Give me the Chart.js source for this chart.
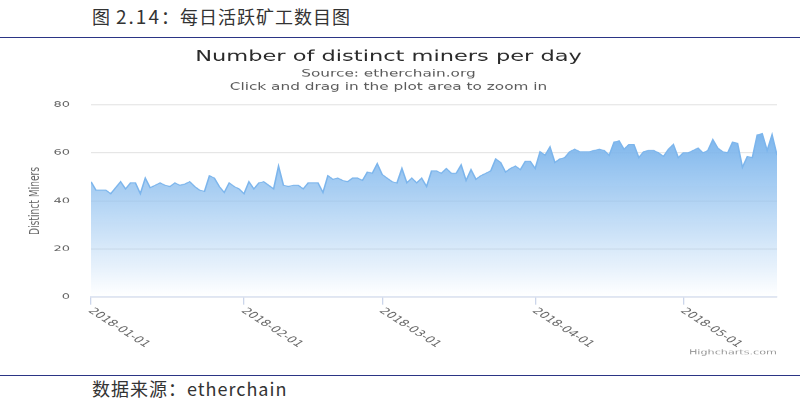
<!DOCTYPE html>
<html>
<head>
<meta charset="utf-8">
<style>
  body { margin:0; background:#fff; width:800px; height:404px; overflow:hidden; position:relative; font-family:"Noto Sans CJK SC", sans-serif; }
  .cap { position:absolute; left:92px; color:#333; font-size:18px; letter-spacing:1px; line-height:1; white-space:nowrap; }
  .cap .num { letter-spacing:2px; font-size:19px; }
  #head { top:6px; }
  #foot { top:379px; }
  .rule { position:absolute; left:0; width:800px; height:1px; background:#2b3585; }
  #wrap { position:absolute; left:0; top:40px; width:800px; height:334px; overflow:hidden; }
  #chart { transform-origin:0 0; transform:scaleY(0.63); }
</style>
</head>
<body>
<div class="cap" id="head">图 <span class="num">2.14</span>：每日活跃矿工数目图</div>
<div class="rule" style="top:37px"></div>
<div id="wrap"><canvas id="chart" width="800" height="530"></canvas></div>
<div class="rule" style="top:375px"></div>
<div class="cap" id="foot">数据来源：etherchain</div>

<script src="https://cdn.jsdelivr.net/npm/chart.js"></script>
<script>
// daily distinct miners, 2018-01-01 .. 2018-05-20
var jan = [48, 44.5, 44.5, 44.5, 43, 45.5, 48, 45, 47.5, 47.5, 43, 49.5, 45.5, 46.5, 47.5, 46.5,
           46, 47.5, 46.5, 47, 48, 46, 44.5, 44, 50.5, 49.5, 46, 43.5, 47.5, 46, 45];
var feb = [43, 48, 45, 47.5, 48, 46.5, 45, 54.5, 46.5, 46, 46.5, 46.5, 45, 47.5, 47.5, 47.5,
           43.5, 50.5, 49, 49.5, 48.5, 48, 49.5, 49.5, 48.5, 52, 51.5, 55.5];
var mar = [51, 49.5, 48, 47.5, 53.5, 47.5, 49.5, 47.5, 49.5, 46, 52.5, 52.5, 51.5, 53.5, 51.5, 51.5,
           55, 48.5, 53, 49, 50.5, 51.5, 52.5, 57.5, 56, 52, 53.5, 54.5, 53, 56.5, 56.5];
var apr = [53.5, 60.5, 59, 62.5, 56, 57.5, 58, 60.5, 61.5, 60.5, 60.5, 60.5, 61, 61.5, 61,
           59, 64.5, 65, 61.5, 63.5, 63.5, 58, 60.5, 61, 61, 60, 58.5, 61.5, 63.5, 58];
var may = [60, 60, 61, 62, 60, 61, 65.5, 62, 60.5, 60, 64.5, 64, 54, 58.5, 58, 67.5, 68, 61, 67.5, 59];

var tickDates = ['2018-01-01', '2018-02-01', '2018-03-01', '2018-04-01', '2018-05-01'];
var tickDays = [0, 31, 59, 90, 120];
var yTicks = [0, 20, 40, 60, 80];

var miners = jan.concat(feb, mar, apr, may);
var points = miners.map(function(v, i){ return {x: i, y: v}; });

// rotated date labels + credits
var xLabels = {
    id: 'xLabels',
    afterDraw: function(chart){
        var c = chart.ctx, xs = chart.scales.x, a = chart.chartArea;
        c.save();
        c.fillStyle = '#666';
        c.font = '14px "DejaVu Sans"';
        c.textAlign = 'left';
        c.textBaseline = 'middle';
        for (var i = 0; i < tickDays.length; i++) {
            c.save();
            c.translate(xs.getPixelForValue(tickDays[i]) - 1, a.bottom + 20);
            c.rotate(Math.PI / 4);
            c.fillText(tickDates[i], 0, 0);
            c.restore();
        }
        c.fillStyle = '#999';
        c.font = '11.2px "DejaVu Sans"';
        c.textAlign = 'right';
        c.fillText('Highcharts.com', a.right, 496);
        c.restore();
    }
};

var ctx = document.getElementById('chart');
new Chart(ctx, {
    type: 'line',
    data: {
        datasets: [{
            data: points,
            borderColor: '#7cb5ec',
            borderWidth: 1.6,
            pointRadius: 0,
            tension: 0,
            fill: 'origin',
            backgroundColor: function(c){
                var ch = c.chart, a = ch.chartArea;
                if (!a) return 'rgba(124,181,236,0.5)';
                var top = ch.scales.y.getPixelForValue(Math.max.apply(null, miners));
                var g = ch.ctx.createLinearGradient(0, top, 0, a.bottom);
                g.addColorStop(0, 'rgba(124,181,236,1)');
                g.addColorStop(1, 'rgba(124,181,236,0)');
                return g;
            }
        }]
    },
    options: {
        responsive: false,
        animation: false,
        events: [],
        layout: { padding: { left: 0, right: 23, top: 0, bottom: 0 } },
        plugins: {
            legend: { display: false },
            tooltip: { enabled: false },
            title: {
                display: true,
                text: 'Number of distinct miners per day',
                color: '#2a2a2a',
                font: { family: 'DejaVu Sans', size: 22.5, weight: 'normal', lineHeight: 1.2 },
                padding: { top: 13.6, bottom: 3.4 }
            },
            subtitle: {
                display: true,
                text: ['Source: etherchain.org', 'Click and drag in the plot area to zoom in'],
                color: '#5a5a5a',
                font: { family: 'DejaVu Sans', size: 15.3, lineHeight: 1.35 },
                padding: { top: 0, bottom: 17.5 }
            }
        },
        scales: {
            x: {
                type: 'linear',
                min: 0,
                max: miners.length - 1,
                afterBuildTicks: function(s){ s.ticks = tickDays.map(function(v){ return {value: v}; }); },
                afterFit: function(s){ s.height = 122; },
                ticks: { display: false },
                grid: { drawOnChartArea: false, drawTicks: true, tickLength: 12, color: '#ccd6eb', lineWidth: 1.3 },
                border: { color: '#ccd6eb', width: 1.5 }
            },
            y: {
                min: 0,
                max: 80,
                afterBuildTicks: function(s){ s.ticks = yTicks.map(function(v){ return {value: v}; }); },
                afterFit: function(s){ s.width = 91; },
                ticks: { color: '#666', font: { family: 'DejaVu Sans', size: 13 }, padding: 21 },
                grid: { color: '#e6e6e6', lineWidth: 1.5, drawTicks: false },
                border: { display: false },
                title: {
                    display: true,
                    text: 'Distinct Miners',
                    color: '#666',
                    font: { family: 'DejaVu Sans', size: 14.5 },
                    padding: { top: 26.3, bottom: 0 }
                }
            }
        }
    },
    plugins: [xLabels]
});
</script>
</body>
</html>
